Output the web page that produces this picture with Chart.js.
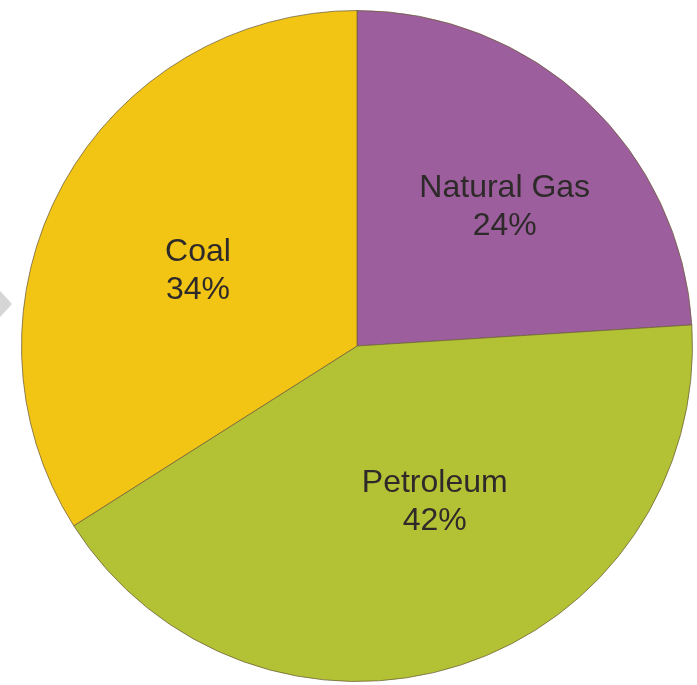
<!DOCTYPE html>
<html>
<head>
<meta charset="utf-8">
<script src="https://cdn.jsdelivr.net/npm/chart.js@4/dist/chart.umd.min.js"></script>
<style>
  html, body { margin: 0; padding: 0; background: #ffffff; width: 697px; height: 685px; overflow: hidden; }
  #wrap { position: absolute; left: 21px; top: 10px; width: 672px; height: 672px; }
  #chev { position: absolute; left: -6px; top: 284px; width: 0; height: 0;
          border-top: 20px solid transparent; border-bottom: 20px solid transparent;
          border-left: 18px solid #d6d6d6; }
</style>
</head>
<body>
<div id="chev"></div>
<div id="wrap"><canvas id="c" width="672" height="672"></canvas></div>
<script>
const categories = ["Natural Gas", "Petroleum", "Coal"];
const shares = [24, 42, 34];
const percentLabels = ["24%", "42%", "34%"];
const sliceColors = ["#9c5e9d", "#b3c235", "#f2c414"];

const labelPlugin = {
  id: 'sliceLabels',
  afterDatasetsDraw(chart, args, opts) {
    const ctx = chart.ctx;
    const meta = chart.getDatasetMeta(0);
    ctx.save();
    ctx.font = opts.font;
    ctx.fillStyle = opts.color;
    ctx.textAlign = 'center';
    ctx.textBaseline = 'middle';
    meta.data.forEach((arc, i) => {
      const p = arc.getProps(['x', 'y', 'startAngle', 'endAngle', 'outerRadius'], true);
      const mid = (p.startAngle + p.endAngle) / 2 + opts.angleNudge[i] * Math.PI / 180;
      const r = p.outerRadius * opts.radiusFrac[i];
      const cx = p.x + Math.cos(mid) * r;
      const cy = p.y + Math.sin(mid) * r;
      ctx.fillText(categories[i], cx, cy - opts.lineGap / 2);
      ctx.fillText(percentLabels[i], cx, cy + opts.lineGap / 2);
    });
    ctx.restore();
  }
};

new Chart(document.getElementById('c'), {
  type: 'pie',
  data: {
    labels: categories,
    datasets: [{
      data: shares,
      backgroundColor: sliceColors,
      borderColor: 'rgba(110,95,60,0.75)',
      borderWidth: 1
    }]
  },
  options: {
    responsive: false,
    animation: false,
    layout: { padding: 0 },
    plugins: {
      legend: { display: false },
      tooltip: { enabled: false },
      sliceLabels: {
        font: '32px "Liberation Sans", Arial, sans-serif',
        color: '#2e2a2a',
        lineGap: 38,
        radiusFrac: [0.604, 0.521, 0.524],
        angleNudge: [3.6, -8.4, -3.6]
      }
    }
  },
  plugins: [labelPlugin]
});
</script>
</body>
</html>
